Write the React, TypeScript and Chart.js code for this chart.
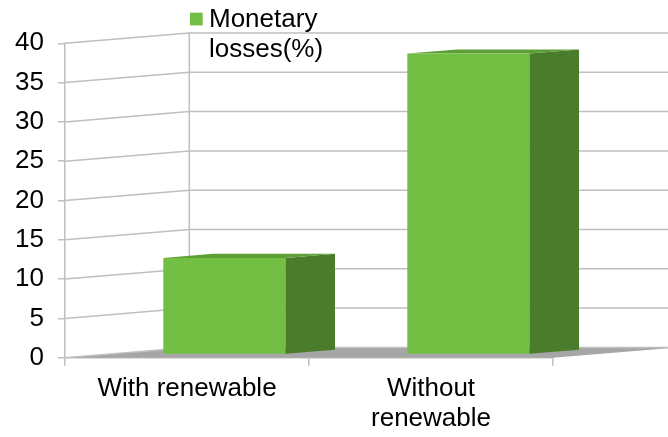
import React, { useEffect, useRef } from "react";
import { Chart, registerables } from "chart.js";

Chart.register(...registerables);

// Data
const categories: (string | string[])[] = ["With renewable", ["Without", "renewable"]];
const seriesName = "Monetary losses(%)";
const lossValues = [12.3, 38.3];
const yMin = 0;
const yMax = 40;
const yStep = 5;

// Styling
const FONT_FAMILY = '"Liberation Sans", Arial, sans-serif';
const FONT_SIZE = 26;
const FRONT_COLOR = "#72BF44";
const SIDE_COLOR = "#4A7C2B";
const TOP_COLOR = "#5E9E36";
const GRID_COLOR = "#BFBFBF";
const FLOOR_COLOR = "#A6A6A6";

// Oblique projection of the depth axis
const DEPTH_DX = 124.3;
const DEPTH_DY = -10.3;
const BAR_NEAR = 0.3;
const BAR_FAR = 0.7;

const poly = (ctx: CanvasRenderingContext2D, pts: number[][], color: string) => {
  ctx.beginPath();
  ctx.moveTo(pts[0][0], pts[0][1]);
  for (let i = 1; i < pts.length; i++) ctx.lineTo(pts[i][0], pts[i][1]);
  ctx.closePath();
  ctx.fillStyle = color;
  ctx.fill();
};

const threeDPlugin = {
  id: "threeD",
  beforeDatasetsDraw(chart: any) {
    const { ctx, chartArea, scales } = chart;
    const { left, right, top, bottom } = chartArea;
    const y = scales.y;
    ctx.save();
    // floor
    poly(
      ctx,
      [
        [left, bottom],
        [right, bottom],
        [right + DEPTH_DX, bottom + DEPTH_DY],
        [left + DEPTH_DX, bottom + DEPTH_DY],
      ],
      FLOOR_COLOR
    );
    // side wall and back wall gridlines
    ctx.strokeStyle = GRID_COLOR;
    ctx.lineWidth = 1.5;
    ctx.beginPath();
    for (const t of y.ticks) {
      const py = y.getPixelForValue(t.value);
      ctx.moveTo(left, py);
      ctx.lineTo(left + DEPTH_DX, py + DEPTH_DY);
      ctx.lineTo(chart.width, py + DEPTH_DY);
    }
    ctx.moveTo(left + DEPTH_DX, top + DEPTH_DY);
    ctx.lineTo(left + DEPTH_DX, bottom + DEPTH_DY);
    ctx.stroke();
    ctx.restore();
  },
  beforeDatasetDraw() {
    return false;
  },
  afterDatasetsDraw(chart: any) {
    const { ctx } = chart;
    const meta = chart.getDatasetMeta(0);
    const nx = BAR_NEAR * DEPTH_DX;
    const ny = BAR_NEAR * DEPTH_DY;
    const fx = BAR_FAR * DEPTH_DX;
    const fy = BAR_FAR * DEPTH_DY;
    ctx.save();
    meta.data.forEach((bar: any) => {
      const { x, y, base, width } = bar.getProps(["x", "y", "base", "width"], true);
      const x0 = x - width / 2;
      const x1 = x + width / 2;
      poly(ctx, [[x1 + nx, y + ny], [x1 + fx, y + fy], [x1 + fx, base + fy], [x1 + nx, base + ny]], SIDE_COLOR);
      poly(ctx, [[x0 + nx, y + ny], [x1 + nx, y + ny], [x1 + fx, y + fy], [x0 + fx, y + fy]], TOP_COLOR);
      poly(ctx, [[x0 + nx, y + ny], [x1 + nx, y + ny], [x1 + nx, base + ny], [x0 + nx, base + ny]], FRONT_COLOR);
    });
    ctx.restore();
  },
  afterDraw(chart: any) {
    // legend
    const { ctx } = chart;
    const ds = chart.data.datasets[0];
    ctx.save();
    ctx.fillStyle = ds.backgroundColor;
    ctx.fillRect(190, 12.7, 12.7, 12.7);
    ctx.fillStyle = "#000";
    ctx.font = `${FONT_SIZE}px ${FONT_FAMILY}`;
    ctx.textBaseline = "alphabetic";
    ctx.textAlign = "left";
    const words = String(ds.label).split(" ");
    words.forEach((w, i) => ctx.fillText(w, 209, 27.3 + i * 29.7));
    ctx.restore();
  },
};

export default function App() {
  const canvasRef = useRef<HTMLCanvasElement>(null);

  useEffect(() => {
    const canvas = canvasRef.current;
    if (!canvas) return;
    const chart = new Chart(canvas, {
      type: "bar",
      data: {
        labels: categories,
        datasets: [
          {
            label: seriesName,
            data: lossValues,
            backgroundColor: FRONT_COLOR,
            categoryPercentage: 1,
            barPercentage: 0.5,
          },
        ],
      },
      options: {
        responsive: false,
        animation: false,
        devicePixelRatio: 1,
        layout: { padding: { left: 0, top: 43.3, right: 115, bottom: 0 } },
        plugins: {
          legend: { display: false },
          tooltip: { enabled: false },
        },
        scales: {
          x: {
            afterFit: (s: any) => {
              s.height = 79.3;
            },
            grid: {
              drawOnChartArea: false,
              drawTicks: true,
              tickLength: 8,
              color: GRID_COLOR,
              lineWidth: 1.5,
              offset: true,
            },
            border: { display: true, color: GRID_COLOR, width: 1.5 },
            ticks: {
              color: "#000",
              font: { family: FONT_FAMILY, size: FONT_SIZE, lineHeight: 1.15 },
              padding: 8,
              maxRotation: 0,
              autoSkip: false,
            },
          },
          y: {
            min: yMin,
            max: yMax,
            afterFit: (s: any) => {
              s.width = 65;
            },
            grid: {
              drawOnChartArea: false,
              drawTicks: true,
              tickLength: 7,
              color: GRID_COLOR,
              lineWidth: 1.5,
            },
            border: { display: true, color: GRID_COLOR, width: 1.5 },
            ticks: {
              stepSize: yStep,
              color: "#000",
              font: { family: FONT_FAMILY, size: FONT_SIZE },
              padding: 14,
            },
          },
        },
      },
      plugins: [threeDPlugin],
    });
    return () => chart.destroy();
  }, []);

  return (
    <div style={{ position: "fixed", left: 0, top: 0, width: 668, height: 437, background: "#fff" }}>
      <canvas ref={canvasRef} width={668} height={437} />
    </div>
  );
}
